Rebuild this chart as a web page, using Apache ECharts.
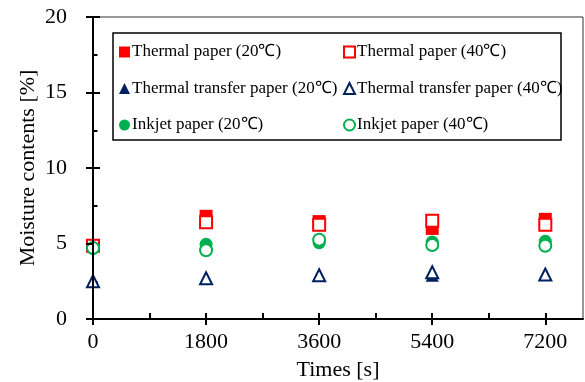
<!DOCTYPE html>
<html>
<head>
<meta charset="utf-8">
<script src="https://cdn.jsdelivr.net/npm/echarts@6/dist/echarts.min.js"></script>
<style>
  html, body { margin: 0; padding: 0; background: #fff; }
  #chart { width: 585px; height: 382px; }
</style>
</head>
<body>
<div id="chart"></div>
<script>
// Sampling times [s]
const times = [0, 1800, 3600, 5400, 7200];
const xTickLabels = [0, 1800, 3600, 5400, 7200];
const xMinorTicks = [0, 900, 1800, 2700, 3600, 4500, 5400, 6300, 7200];

// Moisture contents [%]
const thermal20 = [4.85, 6.8, 6.45, 6.0, 6.6];
const thermal40 = [4.85, 6.4, 6.25, 6.5, 6.25];
const transfer20 = [2.5, 2.7, 2.9, 2.9, 2.95];
const transfer40 = [2.5, 2.7, 2.9, 3.1, 2.95];
const inkjet20 = [4.7, 4.95, 5.05, 5.1, 5.15];
const inkjet40 = [4.7, 4.55, 5.25, 4.9, 4.85];

const names = {
  thermal20: 'Thermal paper (20℃)',
  thermal40: 'Thermal paper (40℃)',
  transfer20: 'Thermal transfer paper (20℃)',
  transfer40: 'Thermal transfer paper (40℃)',
  inkjet20: 'Inkjet paper (20℃)',
  inkjet40: 'Inkjet paper (40℃)'
};

const RED = '#ff0000', NAVY = '#002060', GREEN = '#00b050';
const FONT = '"Liberation Serif", "Times New Roman", serif';

const pairs = v => times.map((t, i) => [t, v[i]]);

function filled(name, values, symbol, color, size) {
  return {
    name, type: 'scatter', xAxisIndex: 0, yAxisIndex: 0,
    symbol, symbolSize: size, data: pairs(values),
    itemStyle: { color, opacity: 1 }
  };
}
function open(name, values, symbol, color, size) {
  return {
    name, type: 'scatter', xAxisIndex: 0, yAxisIndex: 0,
    symbol, symbolSize: size, data: pairs(values),
    itemStyle: { color: '#fff', borderColor: color, borderWidth: 2, opacity: 1 }
  };
}

const chart = echarts.init(document.getElementById('chart'), null, { renderer: 'canvas' });

const legendCommon = {
  orient: 'vertical',
  top: 42,
  itemWidth: 11,
  itemHeight: 11,
  itemGap: 16.5,
  padding: 0,
  textStyle: { fontFamily: FONT, fontSize: 17, color: '#000', lineHeight: 20, padding: [0, 0, 0, -3] }
};

const plain = v => String(v);

chart.setOption({
  animation: false,
  backgroundColor: '#fff',
  grid: {
    left: 93, right: 2, top: 17, bottom: 63,
    outerBoundsMode: 'none',
    show: true, borderColor: '#333', borderWidth: 1
  },
  legend: [
    Object.assign({ left: 119, data: [names.thermal20, names.transfer20, names.inkjet20] }, legendCommon),
    Object.assign({ left: 343, data: [names.thermal40, names.transfer40, names.inkjet40] }, legendCommon)
  ],
  graphic: [{
    type: 'rect', z: 1,
    shape: { x: 113, y: 33, width: 448, height: 107 },
    style: { fill: 'none', stroke: '#000', lineWidth: 1.5 }
  }],
  xAxis: [
    {
      type: 'value', min: 0, max: 7800, position: 'bottom',
      name: 'Times [s]', nameLocation: 'middle', nameGap: 40, nameMoveOverlap: false,
      nameTextStyle: { fontFamily: FONT, fontSize: 22, color: '#000' },
      axisLine: { show: true, onZero: false, lineStyle: { color: '#000', width: 2 } },
      axisTick: { show: true, inside: false, length: 6, customValues: xTickLabels, lineStyle: { color: '#000', width: 2 } },
      axisLabel: { customValues: xTickLabels, formatter: plain, margin: 12, fontFamily: FONT, fontSize: 22, color: '#000' },
      splitLine: { show: false },
      z: 5
    },
    {
      type: 'value', min: 0, max: 7800, position: 'bottom',
      axisLine: { show: false, onZero: false },
      axisTick: { show: true, inside: true, length: 6, customValues: xMinorTicks, lineStyle: { color: '#000', width: 2 } },
      axisLabel: { show: false },
      splitLine: { show: false }
    }
  ],
  yAxis: [
    {
      type: 'value', min: 0, max: 20, interval: 5, position: 'left',
      name: 'Moisture contents [%]', nameLocation: 'middle', nameGap: 54, nameMoveOverlap: false,
      nameTextStyle: { fontFamily: FONT, fontSize: 22, color: '#000' },
      axisLine: { show: true, onZero: false, lineStyle: { color: '#000', width: 2 } },
      axisTick: { show: true, inside: false, length: 7, lineStyle: { color: '#000', width: 2 } },
      axisLabel: { margin: 26, formatter: plain, fontFamily: FONT, fontSize: 22, color: '#000' },
      splitLine: { show: false },
      z: 5
    },
    {
      type: 'value', min: 0, max: 20, interval: 5, position: 'left',
      axisLine: { show: false, onZero: false },
      axisTick: { show: true, inside: true, length: 7, lineStyle: { color: '#000', width: 2 } },
      minorTick: { show: true, splitNumber: 2, length: 4.5, lineStyle: { color: '#000', width: 2 } },
      axisLabel: { show: false },
      splitLine: { show: false }
    }
  ],
  series: [
    filled(names.thermal20, thermal20, 'rect', RED, 13),
    open(names.thermal40, thermal40, 'rect', RED, 12),
    filled(names.transfer20, transfer20, 'triangle', NAVY, 13),
    open(names.transfer40, transfer40, 'triangle', NAVY, 12),
    filled(names.inkjet20, inkjet20, 'circle', GREEN, 13),
    open(names.inkjet40, inkjet40, 'circle', GREEN, 12)
  ]
});
</script>
</body>
</html>
